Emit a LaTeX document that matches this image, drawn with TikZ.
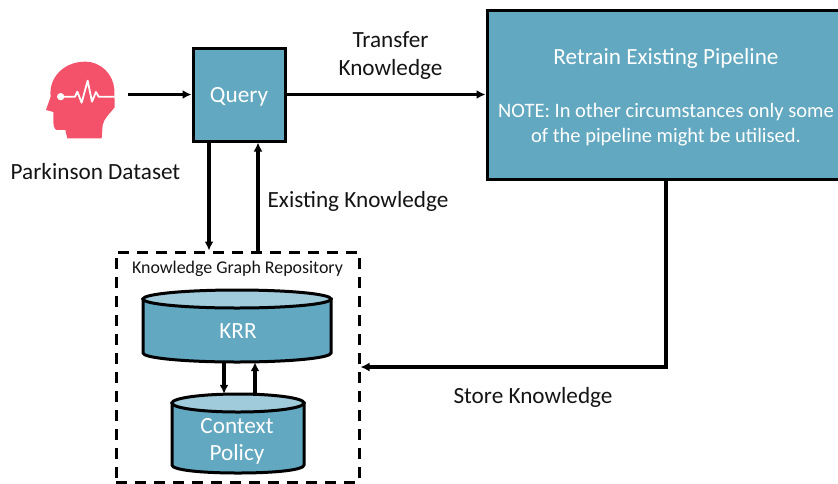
\documentclass[tikz,border=0pt]{standalone}
\usepackage{fontspec}
\setmainfont{Carlito}
\usetikzlibrary{arrows.meta}
\definecolor{boxblue}{HTML}{62A8C0}
\definecolor{toplight}{HTML}{A0CBDA}
\definecolor{headred}{HTML}{F4526A}
\definecolor{labelink}{HTML}{141414}
\tikzset{
  x=1pt,y=-1pt,
  conn/.style={line width=3.2pt,-{Latex[length=9pt,width=9pt]}},
  bluebox/.style={draw=black,line width=3pt,fill=boxblue,inner sep=0pt},
  cylbody/.style={draw=black,line width=3pt,fill=boxblue},
  cyltop/.style={draw=black,line width=3pt,fill=toplight},
  whitetxt/.style={text=white,font=\fontsize{23.2}{27}\selectfont,align=center,inner sep=0pt},
  labeltxt/.style={text=labelink,font=\fontsize{23.2}{28}\selectfont,align=center,inner sep=0pt},
  hiddenbox/.style={inner sep=0pt,anchor=center},
}
\begin{document}
\begin{tikzpicture}
\useasboundingbox (0,0) rectangle (838,483);
\clip (0,0) rectangle (838,483);
% head icon
\begin{scope}[shift={(30,50)},x=0.3333pt,y=-0.3333pt]
\fill[headred] (165,35) .. controls (215,35) and (250,75) .. (253,118)
  -- (254,172) .. controls (240,190) and (222,205) .. (218,225) -- (215,265) -- (112,265) -- (106,240) -- (80,240)
  .. controls (72,238) and (70,225) .. (70,210) -- (70,186) -- (48,180) -- (62,140)
  .. controls (55,85) and (100,35) .. (165,35) -- cycle;
\draw[white,line width=1.8pt,line join=round] (92,140) -- (135,140) -- (142,125) -- (155,158) -- (173,92) -- (186,155) -- (198,126) -- (206,140) -- (254,140);
\fill[white] (92,140) circle (11);
\end{scope}
\node[hiddenbox,minimum width=96pt,minimum height=100pt] (head) at (80,101) {};
\node[labeltxt,anchor=center] (pd) at (95.5,172) {Parkinson Dataset};
% main boxes
\node[bluebox,minimum width=92pt,minimum height=93pt] (query) at (239,94.5) {};
\node[whitetxt] (qt) at (239,97) {Query};
\node[bluebox,minimum width=420pt,minimum height=169pt] (retrain) at (697,94.5) {};
\node[whitetxt] (rt) at (666,58) {Retrain Existing Pipeline};
\node[whitetxt,font=\fontsize{20.5}{25}\selectfont] (note) at (666,125) {NOTE: In other circumstances only some\\of the pipeline might be utilised.};
% labels
\node[labeltxt] (tk) at (390.5,56) {Transfer\\Knowledge};
\node[labeltxt] (ek) at (358,201) {Existing Knowledge};
\node[labeltxt] (sk) at (533,397) {Store Knowledge};
% repository
\node[draw=black,line width=3pt,dash pattern=on 11pt off 8pt,minimum width=243pt,minimum height=230pt,inner sep=0pt] (repo) at (237.5,367) {};
\node[labeltxt,font=\fontsize{17.9}{20}\selectfont] (repolabel) at (237.5,269) {Knowledge Graph Repository};
% KRR cylinder
\draw[cylbody] (143,299) -- (143,353) .. controls (143,358) and (185,362) .. (237,362) .. controls (289,362) and (331,358) .. (331,353) -- (331,299) -- cycle;
\draw[cyltop] (237,299) ellipse [x radius=94,y radius=9];
\node[hiddenbox,minimum width=188pt,minimum height=72pt] (krr) at (237,326) {};
\node[whitetxt] (krrt) at (238,331) {KRR};
% Context cylinder
\draw[cylbody] (172,403) -- (172,465) .. controls (172,470) and (201,473) .. (238,473) .. controls (275,473) and (304,470) .. (304,465) -- (304,403) -- cycle;
\draw[cyltop] (238,403) ellipse [x radius=66,y radius=9];
\node[hiddenbox,minimum width=132pt,minimum height=79pt] (ctx) at (238,433.5) {};
\node[whitetxt] (ctxt) at (237,441) {Context\\Policy};
% connectors
\draw[conn] (head.east |- query.west) -- (query.west);
\draw[conn] (query.east) -- (retrain.west);
\draw[conn] ([xshift=-30pt]query.south) -- ([xshift=-30pt]query.south |- repo.north);
\draw[conn] ([xshift=19pt]query.south |- repo.north) -- ([xshift=19pt]query.south);
\draw[conn] ([xshift=-31pt]retrain.south) |- ([yshift=0pt]repo.east);
\draw[conn] ([xshift=-13pt]krr.south) -- ([xshift=-14pt]ctx.north);
\draw[conn] ([xshift=17pt]ctx.north) -- ([xshift=18pt]krr.south);
\end{tikzpicture}
\end{document}
